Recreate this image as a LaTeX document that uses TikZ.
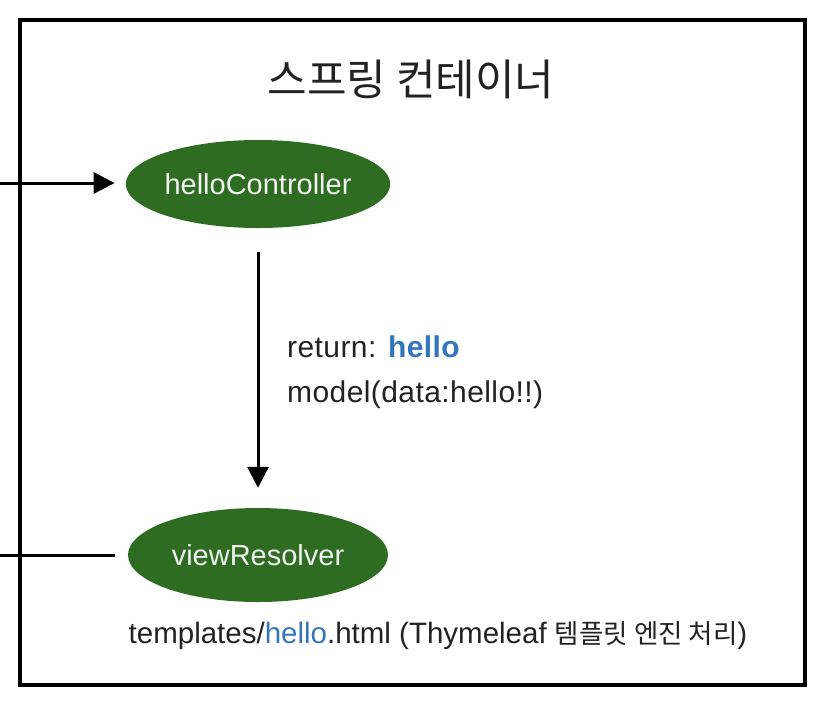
\documentclass[tikz,border=0pt]{standalone}
\usepackage{fontspec}
\setmainfont{Liberation Sans}
\newfontfamily\lblfont[LetterSpace=1.4]{Liberation Sans}
\newfontfamily\kr{Noto Sans CJK KR}
\usetikzlibrary{arrows.meta,shapes.geometric,positioning}

\definecolor{beangreen}{RGB}{46,108,34}
\definecolor{hellblue}{RGB}{52,118,190}
\definecolor{inkgrey}{RGB}{34,34,34}

\tikzset{
    bean/.style={ellipse, fill=beangreen, text=white!95!black, minimum width=260pt,
        inner sep=0pt, font=\fontsize{29}{34}\selectfont},
    arr/.style={line width=3pt, -{Triangle[length=21pt,width=21pt]}},
    plain/.style={line width=3pt},
    lbl/.style={text=inkgrey, inner sep=0pt, font=\lblfont\fontsize{30}{36}\selectfont}
}

\begin{document}
\begin{tikzpicture}[x=1pt,y=-1pt]

    \useasboundingbox (0,0) rectangle (824,710);

    \draw[line width=4pt] (20,20) rectangle (805,685);
    \node[inner sep=0pt, font=\kr\fontsize{43}{50}\selectfont, text=inkgrey] (title) at (411,79) {스프링 컨테이너};

    \node[bean, minimum height=88pt] (hello) at (258,184) {helloController};
    \node[bean, minimum height=94pt] (view) at (258,555) {viewResolver};

    \coordinate (in) at (-2,183);
    \coordinate (out) at (-2,555);

    \draw[arr, shorten >=11pt] (in) -- (hello.west |- in);
    \draw[arr, shorten <=24pt, shorten >=20pt] (hello.south) -- (view.north);
    \draw[plain, shorten >=13pt] (out) -- (view.west);

    \node[lbl, anchor=west] (ret) at (287,347) {return: \textcolor{hellblue}{\textbf{hello}}};
    \node[lbl, anchor=west] (model) at (287,395) {model(data:hello!!)};

    \node[text=inkgrey, inner sep=0pt, font=\fontsize{29.5}{36}\selectfont] (tmpl) at (438,636)
        {templates/\textcolor{hellblue}{hello}.html (Thymeleaf {\kr\fontsize{26.5}{30}\selectfont 템플릿 엔진 처리})};

\end{tikzpicture}
\end{document}
